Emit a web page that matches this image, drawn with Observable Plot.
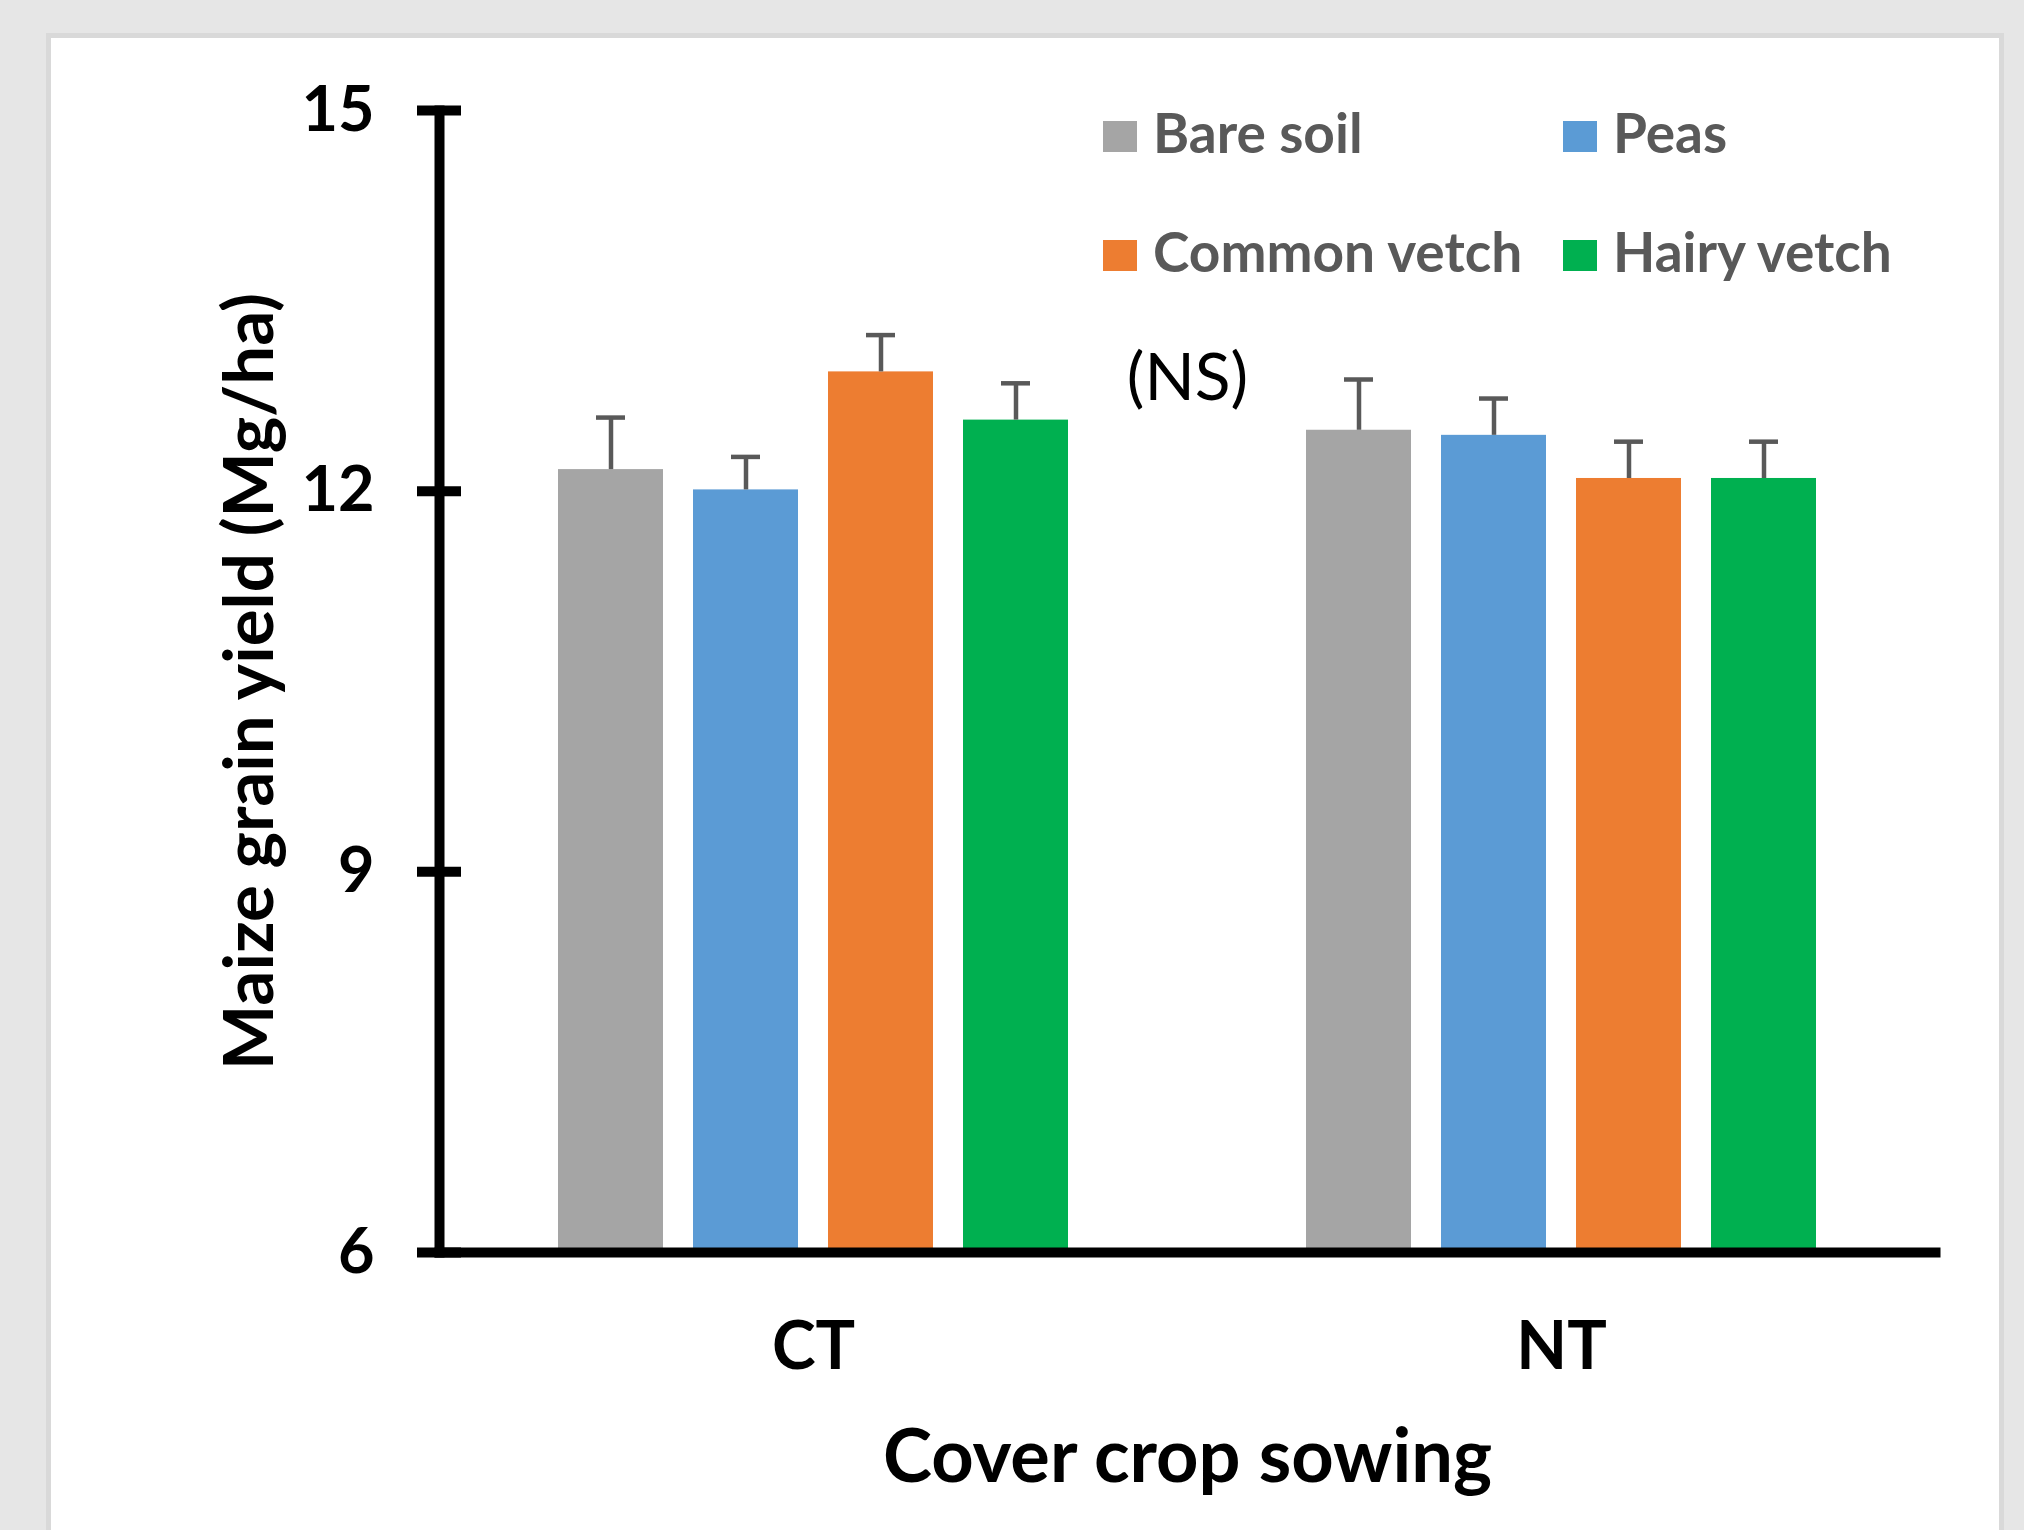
<!DOCTYPE html>
<html>
<head>
<meta charset="utf-8">
<script src="https://cdn.jsdelivr.net/npm/d3@7"></script>
<script src="https://cdn.jsdelivr.net/npm/@observablehq/plot@0.6"></script>
<style>
  html, body { margin: 0; padding: 0; width: 2024px; height: 1530px; overflow: hidden; background: #e6e6e6; font-family: Lato, sans-serif; }
  #card { position: absolute; left: 46px; top: 33px; width: 1948px; height: 1600px; background: #fff; border: 5px solid #d9d9d9; border-bottom: none; }
  #chart { position: absolute; left: 0; top: 0; }
  #legend { position: absolute; left: 1103px; top: 116px; display: grid; grid-template-columns: 460px 420px; grid-auto-rows: 119px; }
  .item { display: flex; align-items: center; height: 40px; }
  .sw { width: 34px; height: 31px; margin-right: 16px; flex: none; }
  .lab { font-family: Lato, sans-serif; font-weight: 700; font-size: 55px; line-height: 1; color: #595959; white-space: nowrap; position: relative; top: -4px; }
</style>
</head>
<body>
<div id="card"></div>
<div id="chart"></div>
<div id="legend"></div>
<script>
// ---- data ----
const groups = ["CT", "NT"];
const series = ["Bare soil", "Peas", "Common vetch", "Hairy vetch"];
const colors = ["#a5a5a5", "#5b9bd5", "#ed7d31", "#00b050"];
const ctYield = [12.17, 12.01, 12.94, 12.56];
const ntYield = [12.48, 12.44, 12.10, 12.10];
const ctError = [0.41, 0.26, 0.29, 0.29];
const ntError = [0.40, 0.29, 0.29, 0.29];
const yTicks = [6, 9, 12, 15];
const yTitle = "Maize grain yield (Mg/ha)";
const xTitle = "Cover crop sowing";
const note = "(NS)";

const yieldsByGroup = [ctYield, ntYield];
const errorsByGroup = [ctError, ntError];
const rows = groups.flatMap((g, gi) => series.map((s, si) => ({
  group: g, series: s, value: yieldsByGroup[gi][si], top: yieldsByGroup[gi][si] + errorsByGroup[gi][si]
})));

const chart = Plot.plot({
  width: 2024,
  height: 1530,
  marginLeft: 439,
  marginRight: 89,
  marginTop: 110,
  marginBottom: 278,
  style: { background: "transparent", fontFamily: "Lato, sans-serif", color: "black" },
  fx: { domain: groups, padding: 0, label: null },
  x: { domain: series, paddingInner: 0.22, paddingOuter: 0.87, axis: null },
  y: { domain: [yTicks[0], yTicks[yTicks.length - 1]], axis: null },
  color: { domain: series, range: colors },
  marks: [
    Plot.barY(rows, { fx: "group", x: "series", y1: yTicks[0], y2: "value", fill: "series" }),
    Plot.ruleX(rows, { fx: "group", x: "series", y1: "value", y2: "top", stroke: "#595959", strokeWidth: 4.5 }),
    Plot.tickY(rows, { fx: "group", x: "series", y: "top", stroke: "#595959", strokeWidth: 4.5, insetLeft: 38, insetRight: 38 }),
    // axis lines
    Plot.frame({ anchor: "bottom", facet: "super", stroke: "black", strokeWidth: 10 }),
    Plot.frame({ anchor: "left", facet: "super", stroke: "black", strokeWidth: 10 }),
    // y ticks crossing the axis
    Plot.axisY({ ticks: yTicks, tickSize: 44, dx: 22, strokeWidth: 10, stroke: "black", tickFormat: () => "", label: null }),
    // y tick labels
    Plot.axisY({ ticks: yTicks, tickSize: 0, tickPadding: 65, fontSize: 63, fontWeight: "bold", fill: "black", label: null }),
    // group labels
    Plot.axisFx({ anchor: "bottom", tickSize: 0, tickPadding: 70, fontSize: 66, fontWeight: "bold", fill: "black", label: null }),
    // titles
    Plot.text([xTitle], { facet: "super", frameAnchor: "bottom", textAnchor: "middle", lineAnchor: "middle", dy: 206, fontSize: 74, fontWeight: "bold", fill: "black" }),
    Plot.text([yTitle], { facet: "super", frameAnchor: "left", textAnchor: "middle", lineAnchor: "middle", dx: -189, rotate: -90, fontSize: 69, fontWeight: "bold", fill: "black" }),
    Plot.text([note], { facet: "super", frameAnchor: "top", textAnchor: "middle", lineAnchor: "middle", dy: 268, fontSize: 66, fill: "black" })
  ]
});
document.getElementById("chart").appendChild(chart);

// legend (row-major: Bare soil, Peas / Common vetch, Hairy vetch)
const legend = document.getElementById("legend");
series.forEach((s, i) => {
  const item = document.createElement("div");
  item.className = "item";
  const sw = document.createElement("div");
  sw.className = "sw";
  sw.style.background = colors[i];
  const lab = document.createElement("span");
  lab.className = "lab";
  lab.textContent = s;
  item.appendChild(sw);
  item.appendChild(lab);
  legend.appendChild(item);
});
</script>
</body>
</html>
